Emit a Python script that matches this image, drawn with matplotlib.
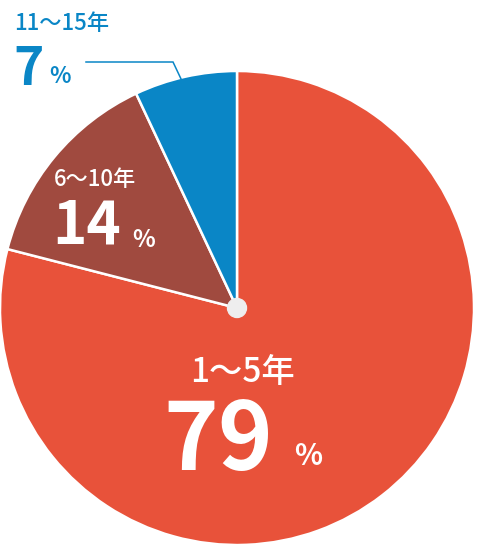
#!/usr/bin/env python3

"""
Pie chart of years of service: 1-5, 6-10 and 11-15 years.
"""

import matplotlib
matplotlib.use('Agg')
import matplotlib.pyplot as plt
from matplotlib.patches import Circle

plt.rcParams['font.family'] = ['Noto Sans CJK JP', 'DejaVu Sans']

# Data
labels = ['1〜5年', '6〜10年', '11〜15年']
shares = [79, 14, 7]
colors = ['#E8523A', '#A04A3F', '#0A86C6']

W, H = 480, 548
fig = plt.figure(figsize=(W / 100, H / 100), dpi=100)
ax = fig.add_axes([0, 0, 1, 1])
ax.set_xlim(0, W)
ax.set_ylim(0, H)
ax.set_aspect('equal')
ax.axis('off')


def py(y):
    # pixel row (from top) -> data y
    return H - y


cx, cy, rad = 237, py(308), 237
ax.pie(shares, colors=colors, startangle=90, counterclock=False,
       center=(cx, cy), radius=rad,
       wedgeprops=dict(edgecolor='white', linewidth=1.8))
ax.add_patch(Circle((cx, cy), 9.5, color='#EEEEEE', zorder=5))

# re-apply limits (pie may reset them)
ax.set_xlim(0, W)
ax.set_ylim(0, H)

fam = ['Noto Sans CJK JP', 'DejaVu Sans']

# 1-5 years
ax.text(190, py(382), labels[0], color='white', fontsize=24,
        fontweight='medium', family=fam, ha='left', va='baseline')
ax.text(163, py(470), str(shares[0]), color='white', fontsize=67,
        fontweight='bold', family=fam, ha='left', va='baseline')
ax.text(294, py(465), '%', color='white', fontsize=21,
        fontweight='bold', family=fam, ha='left', va='baseline')

# 6-10 years
ax.text(54, py(186), labels[1], color='white', fontsize=16,
        fontweight='medium', family=fam, ha='left', va='baseline')
ax.text(52, py(243), str(shares[1]), color='white', fontsize=42,
        fontweight='bold', family=fam, ha='left', va='baseline')
ax.text(132, py(247), '%', color='white', fontsize=17,
        fontweight='bold', family=fam, ha='left', va='baseline')

# 11-15 years, outside with leader line
ax.text(14, py(30), labels[2], color=colors[2], fontsize=16,
        fontweight='medium', family=fam, ha='left', va='baseline')
ax.text(13, py(85), str(shares[2]), color=colors[2], fontsize=37,
        fontweight='bold', family=fam, ha='left', va='baseline')
ax.text(49, py(83), '%', color=colors[2], fontsize=16,
        fontweight='bold', family=fam, ha='left', va='baseline')
ax.plot([86, 173, 182], [py(62), py(62), py(81)], color=colors[2],
        linewidth=1.1, solid_joinstyle='miter')

fig.savefig('out.png', dpi=100)
